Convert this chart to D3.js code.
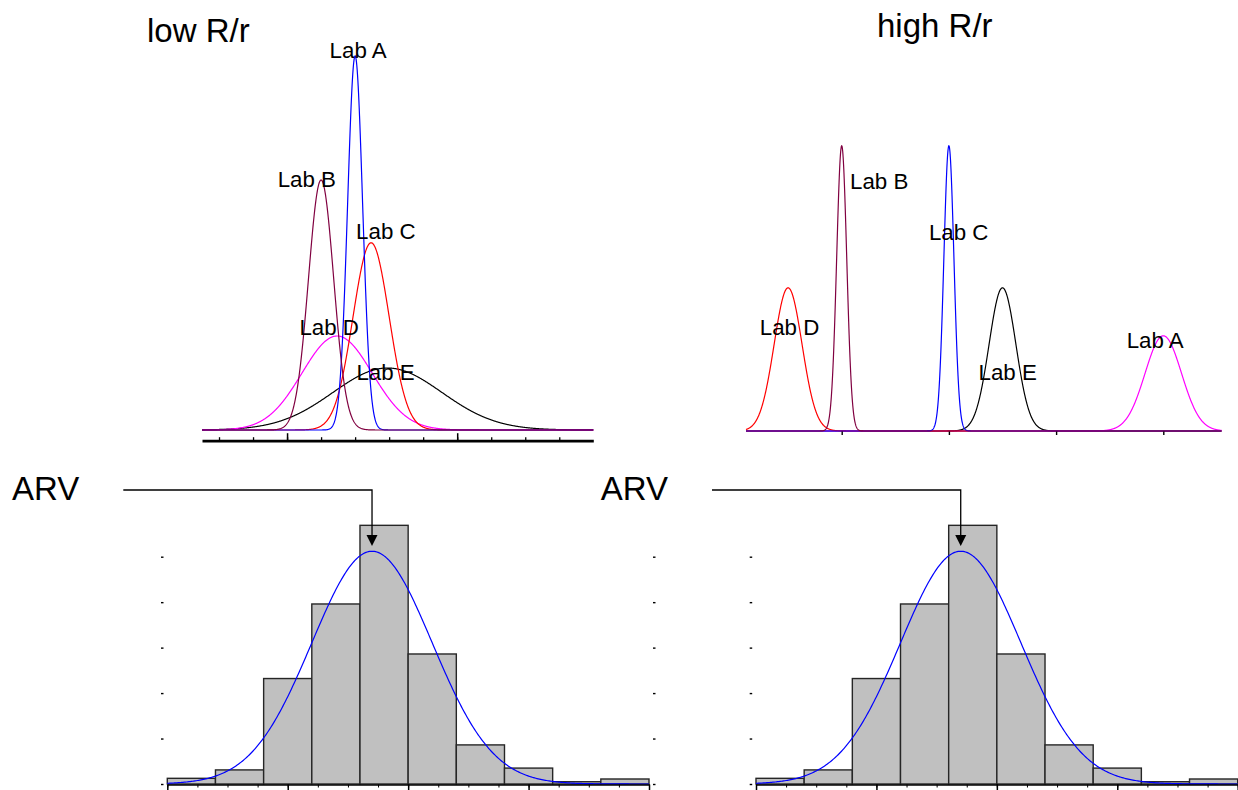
<!DOCTYPE html>
<html><head><meta charset="utf-8">
<script src="https://cdn.jsdelivr.net/npm/d3@7"></script>
<style>
body{margin:0;background:#fff}
svg{display:block}
text{font-family:"Liberation Sans",Arial,Helvetica,sans-serif;fill:#000}
</style>
</head><body>
<svg id="chart" width="1238" height="790"></svg>
<script>
// ---------------- DATA ----------------
const panelTitles = ["low R/r", "high R/r"];
const labNames = ["Lab A", "Lab B", "Lab C", "Lab D", "Lab E"];

// low R/r: normal curves (mean, sd, peak height) per lab
const lowMean = [4.0, 3.0, 4.47, 3.47, 4.95];
const lowSD   = [0.22, 0.37, 0.53, 1.03, 1.6];
const lowPeak = [93.5, 62.5, 46.8, 23.5, 15.5];

// high R/r
const highMean = [4.0, 1.0, 2.0, 0.5, 2.5];
const highSD   = [0.17, 0.047, 0.047, 0.13, 0.125];
const highPeak = [23.8, 71.3, 71.3, 35.8, 35.8];

// histogram of lab results (same in both bottom panels)
const binEdges   = [0, 0.4, 0.8, 1.2, 1.6, 2.0, 2.4, 2.8, 3.2, 3.6, 4.0];
const binHeights = [0.125, 0.31, 2.32, 3.96, 5.69, 2.86, 0.86, 0.35, 0.05, 0.11];
const fitMean = 1.70, fitSD = 0.5, fitPeak = 5.12;
const arvValue = 1.70;
const histYTicks = [0, 1, 2, 3, 4, 5];
const histXMajor = [0, 1, 2, 3, 4];
const histXMinor = d3.range(0, 4.001, 0.25);
const lowXMinor = d3.range(0, 11, 1);
const lowXMajor = [2, 7];
const highXTicks = [1, 2, 3, 4];

// ---------------- STYLE ----------------
const lowColors  = ["#0000ff", "#800040", "#ff0000", "#ff00ff", "#000000"];
const highColors = ["#ff00ff", "#800040", "#0000ff", "#ff0000", "#000000"];
const lowOrder  = [4, 3, 2, 0, 1];
const highOrder = [4, 0, 3, 2, 1];
const lowLabelOff  = [[-25.5, 2], [-43.4, 7.3], [-15, -4], [-37.6, -1], [-31, 12]];
const highLabelOff = [[-36.6, 12.3], [8.3, 43], [-20, 94], [-28.3, 47.3], [-24, 92.3]];

const svg = d3.select("#chart");

function gauss(x, m, s, p) { return p * Math.exp(-((x - m) * (x - m)) / (2 * s * s)); }

// ---------------- TOP LEFT ----------------
{
  const x = d3.scaleLinear().domain([-0.5, 11]).range([202, 593.3]);
  const y = d3.scaleLinear().domain([0, 100]).range([430, 30]);
  const g = svg.append("g");
  const xs = d3.range(-0.5, 11.0001, 0.01);
  const line = d3.line().x(d => x(d[0])).y(d => y(d[1]));
  lowOrder.forEach(i => {
    g.append("path")
      .attr("d", line(xs.map(v => [v, gauss(v, lowMean[i], lowSD[i], lowPeak[i])])))
      .attr("fill", "none").attr("stroke", lowColors[i]).attr("stroke-width", 1.2);
  });
  labNames.forEach((n, i) => {
    g.append("text")
      .attr("x", x(lowMean[i]) + lowLabelOff[i][0])
      .attr("y", y(lowPeak[i]) + lowLabelOff[i][1])
      .attr("font-size", 22.3).text(n);
  });
  const ax = g.append("g").attr("transform", "translate(0,440.7)");
  ax.call(d3.axisTop(x).tickValues(lowXMinor).tickSize(3.5).tickSizeOuter(0).tickFormat(""));
  ax.select(".domain").attr("stroke-width", 2.7);
  ax.selectAll(".tick line").attr("stroke-width", 1.3);
  const ax2 = g.append("g").attr("transform", "translate(0,440.7)");
  ax2.call(d3.axisTop(x).tickValues(lowXMajor).tickSize(7.5).tickSizeOuter(0).tickFormat(""));
  ax2.select(".domain").remove();
  ax2.selectAll(".tick line").attr("stroke-width", 1.5);
  svg.append("text").attr("x", 147).attr("y", 42).attr("font-size", 33).text(panelTitles[0]);
}

// ---------------- TOP RIGHT ----------------
{
  const x = d3.scaleLinear().domain([1, 4]).range([841.7, 1163.3]);
  const x0 = x.invert(746), x1 = x.invert(1221.7);
  const y = d3.scaleLinear().domain([0, 100]).range([431, 31]);
  const g = svg.append("g");
  const xs = d3.range(x0, x1 + 0.0001, 0.002);
  const line = d3.line().x(d => x(d[0])).y(d => y(d[1]));
  highOrder.forEach(i => {
    g.append("path")
      .attr("d", line(xs.map(v => [v, gauss(v, highMean[i], highSD[i], highPeak[i])])))
      .attr("fill", "none").attr("stroke", highColors[i]).attr("stroke-width", 1.2);
  });
  labNames.forEach((n, i) => {
    g.append("text")
      .attr("x", x(highMean[i]) + highLabelOff[i][0])
      .attr("y", y(highPeak[i]) + highLabelOff[i][1])
      .attr("font-size", 22.3).text(n);
  });
  const ax = g.append("g").attr("transform", "translate(0,431.5)");
  ax.call(d3.axisBottom(x).tickValues(highXTicks).tickSize(3.5).tickFormat(""));
  ax.select(".domain").remove();
  ax.selectAll(".tick line").attr("stroke-width", 1.4);
  svg.append("text").attr("x", 877).attr("y", 37).attr("font-size", 33).text(panelTitles[1]);
}

// ---------------- HISTOGRAMS ----------------
[0, 588.7].forEach(off => {
  const x = d3.scaleLinear().domain([0, 4]).range([167.3 + off, 649 + off]);
  const y = d3.scaleLinear().domain([0, 5]).range([784, 556.7]);
  const g = svg.append("g");
  const bins = binHeights.map((h, i) => ({ x0: binEdges[i], x1: binEdges[i + 1], h }));
  g.selectAll("rect").data(bins).join("rect")
    .attr("x", d => x(d.x0)).attr("width", d => x(d.x1) - x(d.x0))
    .attr("y", d => y(d.h)).attr("height", d => y(0) - y(d.h))
    .attr("fill", "#c0c0c0").attr("stroke", "#262626").attr("stroke-width", 1.4);
  const xs = d3.range(0, 4.0001, 0.01);
  g.append("path")
    .attr("d", d3.line().x(v => x(v)).y(v => y(gauss(v, fitMean, fitSD, fitPeak)))(xs))
    .attr("fill", "none").attr("stroke", "#0000ff").attr("stroke-width", 1.2);
  // x axis
  const ax = g.append("g").attr("transform", "translate(0,784.5)");
  ax.call(d3.axisBottom(x).tickValues(histXMinor).tickSize(3).tickSizeOuter(0).tickFormat(""));
  ax.select(".domain").attr("stroke-width", 1.6);
  const ax2 = g.append("g").attr("transform", "translate(0,784.5)");
  ax2.call(d3.axisBottom(x).tickValues(histXMajor).tickSize(7).tickFormat(""));
  ax2.select(".domain").remove();
  ax2.selectAll(".tick line").attr("stroke-width", 1.5);
  // y ticks (left and right, no lines)
  const ay = g.append("g").attr("transform", `translate(${163.5 + off},0)`);
  ay.call(d3.axisLeft(y).tickValues(histYTicks).tickSize(2.5).tickFormat(""));
  ay.select(".domain").remove();
  ay.selectAll(".tick line").attr("stroke-width", 1.4);
  const ay2 = g.append("g").attr("transform", `translate(${653 + off},0)`);
  ay2.call(d3.axisRight(y).tickValues(histYTicks).tickSize(2.5).tickFormat(""));
  ay2.select(".domain").remove();
  ay2.selectAll(".tick line").attr("stroke-width", 1.4);
  // ARV arrow
  const ax0 = x(arvValue);
  g.append("path").attr("d", `M${123.3 + off},490H${ax0}V536`)
    .attr("fill", "none").attr("stroke", "#000").attr("stroke-width", 1.3);
  g.append("path").attr("d", `M${ax0 - 5.5},535L${ax0 + 5.5},535L${ax0},546Z`).attr("fill", "#000");
  g.append("text").attr("x", 12 + off).attr("y", 500).attr("font-size", 33).text("ARV");
});
</script>
</body></html>
